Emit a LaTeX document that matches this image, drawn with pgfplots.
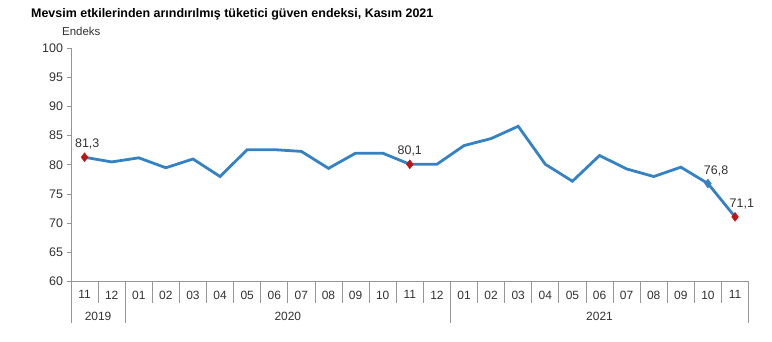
\documentclass[border=0pt]{standalone}
\usepackage{fontspec}
\setmainfont{Liberation Sans}
\usepackage{pgfplots}
\pgfplotsset{compat=1.18}
\definecolor{lineblue}{RGB}{52,130,195}
\definecolor{mkred}{RGB}{190,20,20}
\definecolor{axgray}{RGB}{150,150,150}
\definecolor{txt}{RGB}{50,50,50}
\begin{document}
\begin{tikzpicture}[x=1bp,y=1bp]
\path[use as bounding box] (0,0) rectangle (772,341);
\node[anchor=base west, inner sep=0pt, font=\bfseries\fontsize{12.5}{14}\selectfont] at (31,324) {Mevsim etkilerinden arındırılmış tüketici güven endeksi, Kasım 2021};
\node[anchor=base west, inner sep=0pt, text=txt, font=\fontsize{11.5}{13}\selectfont] at (62,306) {Endeks};
\begin{axis}[
  at={(71bp,59.3bp)}, anchor=south west,
  scale only axis, width=677.6bp, height=233.7bp,
  xmin=-0.5, xmax=24.5, ymin=60, ymax=100,
  ytick={60,65,...,100},
  xtick={0,...,24},
  xticklabels={11,12,01,02,03,04,05,06,07,08,09,10,11,12,01,02,03,04,05,06,07,08,09,10,11},
  /pgf/number format/assume math mode=true,
  axis x line*=bottom, axis y line*=left,
  axis line style={-, draw=axgray, line width=0.8bp},
  x tick style={draw=none},
  y tick style={draw=axgray, line width=0.8bp},
  tick align=outside, major tick length=4bp,
  yticklabel style={text=txt, font=\fontsize{12.5}{14}\selectfont, xshift=-0.5bp},
  xticklabel style={text=txt, font=\fontsize{12}{14}\selectfont, yshift=-1.5bp},
  clip=false,
]
\addplot[lineblue, line width=2.8bp, mark=none] coordinates {
(0,81.3) (1,80.5) (2,81.2) (3,79.5) (4,81.0) (5,78.0) (6,82.6) (7,82.6) (8,82.3) (9,79.4) (10,82.0) (11,82.0) (12,80.1) (13,80.1)
(14,83.3) (15,84.5) (16,86.6) (17,80.1) (18,77.2) (19,81.6) (20,79.3) (21,78.0) (22,79.6) (23,76.8) (24,71.1)};
\addplot[only marks, mark=diamond*, mark size=4.5bp, mark options={fill=mkred, draw=mkred}] coordinates {(0,81.3) (12,80.1) (24,71.1)};
\addplot[only marks, mark=diamond*, mark size=4.5bp, mark options={fill=lineblue, draw=lineblue}] coordinates {(23,76.8)};
\node[text=txt, font=\fontsize{12.5}{14}\selectfont, anchor=south] at (axis cs:0.1,82.1) {81,3};
\node[text=txt, font=\fontsize{12.5}{14}\selectfont, anchor=south] at (axis cs:12,80.9) {80,1};
\node[text=txt, font=\fontsize{12.5}{14}\selectfont, anchor=south] at (axis cs:23.3,77.5) {76,8};
\node[text=txt, font=\fontsize{12.5}{14}\selectfont, anchor=south] at (axis cs:24.25,71.9) {71,1};
\pgfplotsinvokeforeach{-0.5,0.5,...,24.5}{
  \draw[axgray, line width=0.8bp] (axis cs:#1,60) -- ([yshift=-21.5bp]axis cs:#1,60);
}
\pgfplotsinvokeforeach{-0.5,1.5,13.5,24.5}{
  \draw[axgray, line width=0.8bp] (axis cs:#1,60) -- ([yshift=-41.5bp]axis cs:#1,60);
}
\node[text=txt, font=\fontsize{12}{14}\selectfont, yshift=-35bp] at (axis cs:0.5,60) {2019};
\node[text=txt, font=\fontsize{12}{14}\selectfont, yshift=-35bp] at (axis cs:7.5,60) {2020};
\node[text=txt, font=\fontsize{12}{14}\selectfont, yshift=-35bp] at (axis cs:19,60) {2021};
\end{axis}
\end{tikzpicture}
\end{document}
